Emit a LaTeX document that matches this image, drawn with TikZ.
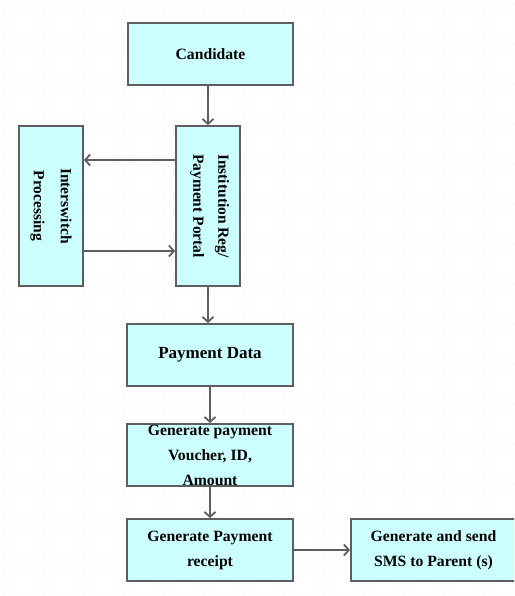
\documentclass[tikz,border=0pt]{standalone}
\usepackage{fontspec}
\setmainfont{Liberation Serif}
\usetikzlibrary{arrows.meta}
\definecolor{boxfill}{HTML}{CCFFFF}
\definecolor{edgec}{HTML}{5E5E5E}
\begin{document}
\begin{tikzpicture}[x=1pt,y=-1pt,
 box/.style={draw=edgec, line width=1.8pt, fill=boxfill, inner sep=0pt, font=\bfseries\fontsize{15.7}{25}\selectfont, align=center},
 conn/.style={draw=edgec, line width=1.8pt, -{Straight Barb[length=5pt,width=11pt]}},
 vtext/.style={inner sep=0pt, font=\bfseries\fontsize{15.5}{25}\selectfont, align=center, rotate=-90}]
\useasboundingbox (0,0) rectangle (514,596);
\clip (0,0) rectangle (514,596);
\fill[white] (0,0) rectangle (514,596);
\foreach \i in {0,...,51}{\foreach \j in {0,...,59}{\fill[black!12] (\i*10+4,\j*10+4) circle (0.55);}}
\node[box, minimum width=165, minimum height=62] (cand) at (210.5,54) {Candidate};
\node[box, minimum width=64, minimum height=160] (inst) at (208,206) {};
\node[vtext] (instlabel) at (209.5,206) {Institution Reg/\\Payment Portal};
\node[box, minimum width=64, minimum height=160] (isw) at (51,206) {};
\node[vtext, font=\bfseries\fontsize{15.5}{27}\selectfont] (iswlabel) at (51,206) {Interswitch\\Processing};
\node[box, minimum width=166, minimum height=62, font=\bfseries\fontsize{17}{25}\selectfont] (pay) at (210,355) {Payment Data};
\node[box, minimum width=166, minimum height=62] (vou) at (210,455) {Generate payment\\Voucher, ID,\\Amount};
\node[box, minimum width=166, minimum height=62] (rec) at (210,550) {Generate Payment\\receipt};
\node[box, minimum width=165, minimum height=62] (sms) at (433.5,550) {Generate and send\\SMS to Parent (s)};
\draw[conn] (cand.south -| inst.north) -- (inst.north);
\draw[conn] (inst.west |- 0,160) -- (isw.east |- 0,160);
\draw[conn] (isw.east |- 0,251) -- (inst.west |- 0,251);
\draw[conn] (inst.south) -- (inst.south |- pay.north);
\draw[conn] (pay) -- (vou);
\draw[conn] (vou) -- (rec);
\draw[conn] (rec) -- (sms);
\end{tikzpicture}
\end{document}
